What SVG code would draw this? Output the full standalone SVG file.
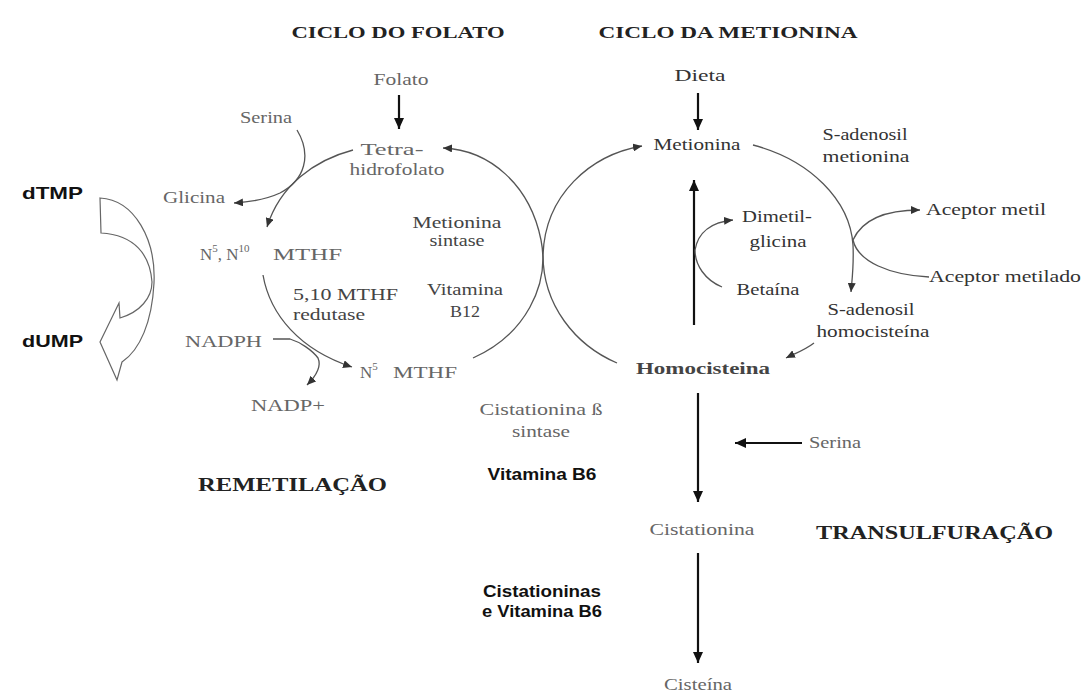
<svg xmlns="http://www.w3.org/2000/svg" width="1087" height="696" viewBox="0 0 1087 696">
<style>
.bg{fill:#ffffff}
text{font-family:"Liberation Serif","Times New Roman",serif;font-size:17px;fill:#444}
.g{fill:#666}
.d{fill:#333}
.t{font-weight:bold;font-size:17px;fill:#222}
.h{font-weight:bold;font-size:19px;fill:#222}
.s{font-family:"Liberation Sans",Arial,sans-serif;font-weight:bold;fill:#111}
.m{text-anchor:middle}
.sup{font-size:11px}
.thin{fill:none;stroke:#555;stroke-width:1.3}
.thick{fill:none;stroke:#111;stroke-width:2.2}
.blk{fill:#fff;stroke:#666;stroke-width:1.2}
</style>
<defs>
<marker id="ah" markerUnits="userSpaceOnUse" markerWidth="9" markerHeight="8" refX="9" refY="4" orient="auto"><path d="M0,0 L9,4 L0,8 z" fill="#333"/></marker>
<marker id="ahb" markerUnits="userSpaceOnUse" markerWidth="11" markerHeight="10" refX="11" refY="5" orient="auto"><path d="M0,0 L11,5 L0,10 z" fill="#111"/></marker>
</defs>
<rect class="bg" x="0" y="0" width="1087" height="696"/>

<g id="connectors">
<path class="thick" d="M399,95 L399,129" marker-end="url(#ahb)"/>
<path class="thick" d="M698,93 L698,130" marker-end="url(#ahb)"/>
<path class="thick" d="M694,325 L694,180" marker-end="url(#ahb)"/>
<path class="thick" d="M698,393 L698,502" marker-end="url(#ahb)"/>
<path class="thick" d="M698,553 L698,663" marker-end="url(#ahb)"/>
<path class="thick" d="M802,443 L735,443" marker-end="url(#ahb)"/>
<path class="thin" d="M473,358 C525,335 550,285 541,240 C530,185 490,150 443,148" marker-end="url(#ah)"/>
<path class="thin" d="M353,150 C315,160 280,185 267,227" marker-end="url(#ah)"/>
<path class="thin" d="M297,130 C312,155 305,180 280,193 C265,200 250,202 234,203" marker-end="url(#ah)"/>
<path class="thin" d="M263,275 C270,315 300,350 352,367" marker-end="url(#ah)"/>
<path class="thin" d="M273,339 L290,339 C300,342 312,350 318,358 C322,367 315,377 307,385" marker-end="url(#ah)"/>
<path class="thin" d="M617,363 C575,345 543,305 543,255 C545,195 590,155 642,146" marker-end="url(#ah)"/>
<path class="thin" d="M753,145 C810,160 850,200 853,245 C854,265 852,280 851,292" marker-end="url(#ah)"/>
<path class="thin" d="M853,240 C862,220 885,210 920,210" marker-end="url(#ah)"/>
<path class="thin" d="M853,240 C858,262 890,275 929,277"/>
<path class="thin" d="M722,287 C705,280 695,265 695,250 C698,232 712,222 733,220" marker-end="url(#ah)"/>
<path class="thin" d="M814,343 C805,350 796,353 786,358" marker-end="url(#ah)"/>
</g>

<g id="dtmp-dump-arrow">
<path class="blk" d="M100,198 C135,200 156,240 154,283 C152,322 140,350 122,362 L117,380 L100,342 L119,303 L120,318 C140,312 152,298 152,282 C150,255 135,235 101,233 Z"/>
</g>

<g id="titles">
<text class="t m" x="398" y="38" textLength="213" lengthAdjust="spacingAndGlyphs">CICLO DO FOLATO</text>
<text class="t m" x="728" y="38" textLength="259" lengthAdjust="spacingAndGlyphs">CICLO DA METIONINA</text>
</g>
<g id="n-folato"><text class="g m" x="401" y="85" textLength="55" lengthAdjust="spacingAndGlyphs">Folato</text></g>
<g id="n-serina1"><text class="g m" x="266" y="123" textLength="52" lengthAdjust="spacingAndGlyphs">Serina</text></g>
<g id="n-thf"><text class="g m" x="392" y="155" textLength="63" lengthAdjust="spacingAndGlyphs">Tetra-</text><text class="g m" x="397" y="175" textLength="95" lengthAdjust="spacingAndGlyphs">hidrofolato</text></g>
<g id="n-glicina"><text class="g m" x="194" y="203" textLength="62" lengthAdjust="spacingAndGlyphs">Glicina</text></g>
<g id="n-n5n10"><text class="g" x="200" y="260" font-size="18">N<tspan class="sup" dy="-8">5</tspan><tspan dy="8">, N</tspan><tspan class="sup" dy="-8">10</tspan><tspan x="273" dy="8" textLength="69" lengthAdjust="spacingAndGlyphs">MTHF</tspan></text></g>
<g id="n-ms"><text class="m" x="457" y="228" textLength="89" lengthAdjust="spacingAndGlyphs">Metionina</text><text class="m" x="457" y="246" textLength="55" lengthAdjust="spacingAndGlyphs">sintase</text></g>
<g id="n-b12"><text class="m" x="465" y="295" textLength="76" lengthAdjust="spacingAndGlyphs">Vitamina</text><text class="m" x="465" y="317" textLength="30" lengthAdjust="spacingAndGlyphs">B12</text></g>
<g id="n-mthfr"><text x="293" y="300" textLength="105" lengthAdjust="spacingAndGlyphs">5,10 MTHF</text><text x="293" y="320" textLength="72" lengthAdjust="spacingAndGlyphs">redutase</text></g>
<g id="n-nadph"><text class="g" x="185" y="347" textLength="77" lengthAdjust="spacingAndGlyphs">NADPH</text></g>
<g id="n-n5"><text class="g" x="360" y="378" font-size="18">N<tspan class="sup" dy="-8">5</tspan><tspan x="393" dy="8" textLength="64" lengthAdjust="spacingAndGlyphs">MTHF</tspan></text></g>
<g id="n-nadp"><text class="g" x="251" y="411" textLength="74" lengthAdjust="spacingAndGlyphs">NADP+</text></g>
<g id="n-remet"><text class="h" x="198" y="491" textLength="189" lengthAdjust="spacingAndGlyphs">REMETILAÇÃO</text></g>
<g id="n-cbs"><text class="g m" x="541" y="415" textLength="123" lengthAdjust="spacingAndGlyphs">Cistationina ß</text><text class="g m" x="541" y="437" textLength="58" lengthAdjust="spacingAndGlyphs">sintase</text></g>
<g id="n-b6"><text class="s m" x="542" y="480" font-size="14" textLength="109" lengthAdjust="spacingAndGlyphs">Vitamina B6</text></g>
<g id="n-cistb6"><text class="s m" x="542" y="597" font-size="14" textLength="118" lengthAdjust="spacingAndGlyphs">Cistationinas</text><text class="s m" x="542" y="617" font-size="14" textLength="120" lengthAdjust="spacingAndGlyphs">e Vitamina B6</text></g>
<g id="n-dieta"><text class="d m" x="700" y="81" textLength="51" lengthAdjust="spacingAndGlyphs">Dieta</text></g>
<g id="n-metionina"><text class="d m" x="697" y="150" textLength="87" lengthAdjust="spacingAndGlyphs">Metionina</text></g>
<g id="n-sam"><text class="d m" x="865" y="140" textLength="85" lengthAdjust="spacingAndGlyphs">S-adenosil</text><text class="d m" x="866" y="162" textLength="87" lengthAdjust="spacingAndGlyphs">metionina</text></g>
<g id="n-dmg"><text class="d m" x="777" y="222" textLength="70" lengthAdjust="spacingAndGlyphs">Dimetil-</text><text class="d m" x="778" y="247" textLength="57" lengthAdjust="spacingAndGlyphs">glicina</text></g>
<g id="n-betaina"><text class="d m" x="768" y="295" textLength="63" lengthAdjust="spacingAndGlyphs">Betaína</text></g>
<g id="n-acm"><text class="d" x="926" y="215" textLength="120" lengthAdjust="spacingAndGlyphs">Aceptor metil</text></g>
<g id="n-acmd"><text class="d" x="929" y="282" textLength="152" lengthAdjust="spacingAndGlyphs">Aceptor metilado</text></g>
<g id="n-sah"><text class="d m" x="871" y="315" textLength="87" lengthAdjust="spacingAndGlyphs">S-adenosil</text><text class="d m" x="873" y="337" textLength="113" lengthAdjust="spacingAndGlyphs">homocisteína</text></g>
<g id="n-hcy"><text class="m" x="703" y="374" font-size="18" font-weight="bold" fill="#333" textLength="134" lengthAdjust="spacingAndGlyphs">Homocisteina</text></g>
<g id="n-serina2"><text class="g" x="809" y="448" textLength="52" lengthAdjust="spacingAndGlyphs">Serina</text></g>
<g id="n-cistationina"><text class="g m" x="702" y="535" textLength="105" lengthAdjust="spacingAndGlyphs">Cistationina</text></g>
<g id="n-transulf"><text class="h" x="816" y="539" textLength="237" lengthAdjust="spacingAndGlyphs">TRANSULFURAÇÃO</text></g>
<g id="n-cisteina"><text class="g m" x="698" y="690" textLength="68" lengthAdjust="spacingAndGlyphs">Cisteína</text></g>
<g id="n-dtmp"><text class="s" x="22" y="199" font-size="17" textLength="61" lengthAdjust="spacingAndGlyphs">dTMP</text></g>
<g id="n-dump"><text class="s" x="22" y="347" font-size="17" textLength="61" lengthAdjust="spacingAndGlyphs">dUMP</text></g>
</svg>
